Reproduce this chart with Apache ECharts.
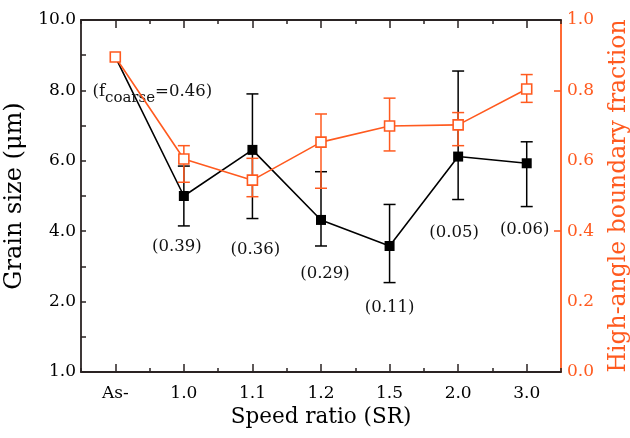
<!DOCTYPE html>
<html>
<head>
<meta charset="utf-8">
<script src="https://cdn.jsdelivr.net/npm/echarts@6/dist/echarts.min.js"></script>
<style>
html,body{margin:0;padding:0;background:#fff;}
#chart{width:630px;height:438px;}
</style>
</head>
<body>
<div id="chart"></div>
<script>
// ---- data ----
const categories = ['As-', '1.0', '1.1', '1.2', '1.5', '2.0', '3.0'];
const grainSize  = [8.95, 5.00, 6.31, 4.32, 3.58, 6.12, 5.93];
const grainLow   = [null, 4.15, 4.36, 3.58, 2.54, 4.90, 4.70];
const grainHigh  = [null, 5.85, 7.90, 5.69, 4.76, 8.55, 6.54];
const hagbFraction = [0.895, 0.605, 0.545, 0.653, 0.699, 0.702, 0.804];
const hagbLow      = [null, 0.539, 0.498, 0.522, 0.628, 0.643, 0.766];
const hagbHigh     = [null, 0.643, 0.607, 0.733, 0.778, 0.737, 0.845];
const coarseFractionLabels = ['(f{sub|coarse}=0.46)', '(0.39)', '(0.36)', '(0.29)', '(0.11)', '(0.05)', '(0.06)'];
const leftTickLabels = ['1.0', '2.0', '4.0', '6.0', '8.0', '10.0'];
const rightTickLabels = ['0.0', '0.2', '0.4', '0.6', '0.8', '1.0'];
const rightTickMarks = [0.4, 0.8];

// ---- layout / style ----
const labelOffsets = [[37, 35], [-7, 51], [3, 100], [4, 54], [0, 62], [-4, 76], [-2, 66]];
const ORANGE = '#ff5a1f';
const BLACK = '#000000';
const FRAME = '#2a2323';
const FONT = 'DejaVu Serif';

function errorData(low, high) {
  const out = [];
  for (let i = 0; i < low.length; i++) {
    if (low[i] != null && high[i] != null) out.push([i, low[i], high[i]]);
  }
  return out;
}
function errorRender(color) {
  return function (params, api) {
    const x = api.value(0);
    const lo = api.coord([x, api.value(1)]);
    const hi = api.coord([x, api.value(2)]);
    const w = 6;
    const style = { stroke: color, lineWidth: 1.5 };
    return {
      type: 'group',
      children: [
        { type: 'line', shape: { x1: lo[0], y1: lo[1], x2: hi[0], y2: hi[1] }, style: style },
        { type: 'line', shape: { x1: hi[0] - w, y1: hi[1], x2: hi[0] + w, y2: hi[1] }, style: style },
        { type: 'line', shape: { x1: lo[0] - w, y1: lo[1], x2: lo[0] + w, y2: lo[1] }, style: style }
      ]
    };
  };
}

const chart = echarts.init(document.getElementById('chart'), null, { renderer: 'canvas' });

const catAxisBase = { type: 'category', data: categories, boundaryGap: true, gridIndex: 0 };

const option = {
  animation: false,
  textStyle: { fontFamily: FONT },
  grid: { left: 81, right: 69, top: 20, bottom: 66, containLabel: false, outerBoundsMode: 'none' },
  xAxis: [
    Object.assign({}, catAxisBase, {
      position: 'bottom',
      name: 'Speed ratio (SR)', nameLocation: 'middle', nameGap: 31,
      nameTextStyle: { fontFamily: FONT, fontSize: 21.5, color: '#000' },
      axisLine: { show: true, lineStyle: { color: FRAME, width: 1.8 } },
      axisTick: { show: true, inside: true, alignWithLabel: true, length: 8, lineStyle: { color: FRAME, width: 1.5 } },
      axisLabel: { show: true, fontFamily: FONT, fontSize: 17, color: '#000', margin: 13 },
      splitLine: { show: false }
    }),
    Object.assign({}, catAxisBase, {
      position: 'bottom',
      axisLine: { show: false },
      axisTick: { show: true, inside: true, alignWithLabel: false, length: 4, lineStyle: { color: FRAME, width: 1.5 } },
      axisLabel: { show: false }, splitLine: { show: false }
    }),
    Object.assign({}, catAxisBase, {
      position: 'top',
      axisLine: { show: true, lineStyle: { color: FRAME, width: 1.8 } },
      axisTick: { show: true, inside: true, alignWithLabel: true, length: 8, lineStyle: { color: FRAME, width: 1.5 } },
      axisLabel: { show: false }, splitLine: { show: false }
    }),
    Object.assign({}, catAxisBase, {
      position: 'top',
      axisLine: { show: false },
      axisTick: { show: true, inside: true, alignWithLabel: false, length: 4, lineStyle: { color: FRAME, width: 1.5 } },
      axisLabel: { show: false }, splitLine: { show: false }
    })
  ],
  yAxis: [
    {
      type: 'value', position: 'left', min: 0, max: 10, interval: 2,
      name: 'Grain size (μm)', nameLocation: 'middle', nameGap: 46, nameRotate: 90,
      nameTextStyle: { fontFamily: FONT, fontSize: 24, color: '#000' },
      axisLine: { show: true, lineStyle: { color: FRAME, width: 1.8 } },
      axisTick: { show: true, inside: true, length: 5, lineStyle: { color: FRAME, width: 1.5 } },
      minorTick: { show: true, splitNumber: 2, length: 5, lineStyle: { color: FRAME, width: 1.5 } },
      axisLabel: {
        fontFamily: FONT, fontSize: 17, color: '#000', margin: 5,
        formatter: function (v) { return leftTickLabels[Math.round(v / 2)]; }
      },
      splitLine: { show: false }
    },
    {
      type: 'value', position: 'right', min: 0, max: 1, interval: 0.2,
      name: 'High-angle boundary fraction', nameLocation: 'middle', nameGap: 46, nameRotate: 90,
      nameTextStyle: { fontFamily: FONT, fontSize: 23.5, color: ORANGE },
      axisLine: { show: true, lineStyle: { color: ORANGE, width: 1.8 } },
      axisTick: { show: true, inside: true, length: 7, customValues: rightTickMarks, lineStyle: { color: ORANGE, width: 1.5 } },
      axisLabel: {
        fontFamily: FONT, fontSize: 17, color: ORANGE, margin: 6,
        formatter: function (v) { return rightTickLabels[Math.round(v * 5)]; }
      },
      splitLine: { show: false }
    }
  ],
  series: [
    {
      type: 'custom', xAxisIndex: 0, yAxisIndex: 0, z: 2,
      renderItem: errorRender(BLACK),
      data: errorData(grainLow, grainHigh)
    },
    {
      type: 'line', xAxisIndex: 0, yAxisIndex: 0, z: 3,
      symbol: 'rect', symbolSize: 10,
      lineStyle: { color: BLACK, width: 1.6 },
      itemStyle: { color: BLACK },
      data: grainSize.map(function (v, i) {
        return {
          value: v,
          label: {
            show: true, position: 'inside', offset: labelOffsets[i],
            formatter: coarseFractionLabels[i],
            fontFamily: FONT, fontSize: 16.5, color: '#111',
            rich: { sub: { fontFamily: FONT, fontSize: 15, color: '#111', padding: [13, 0, 0, 0] } }
          }
        };
      })
    },
    {
      type: 'custom', xAxisIndex: 0, yAxisIndex: 1, z: 4,
      renderItem: errorRender(ORANGE),
      data: errorData(hagbLow, hagbHigh)
    },
    {
      type: 'line', xAxisIndex: 0, yAxisIndex: 1, z: 5,
      symbol: 'rect', symbolSize: 10,
      lineStyle: { color: ORANGE, width: 1.6 },
      itemStyle: { color: '#ffffff', borderColor: ORANGE, borderWidth: 1.6 },
      data: hagbFraction
    }
  ]
};
chart.setOption(option);
</script>
</body>
</html>
